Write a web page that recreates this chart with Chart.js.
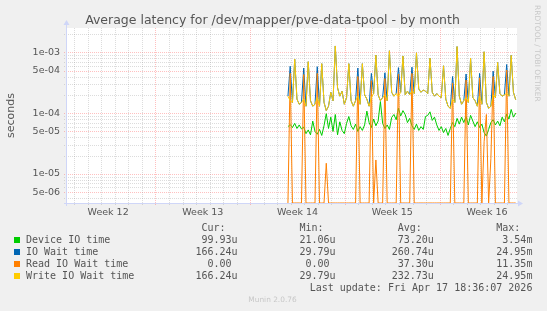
<!DOCTYPE html>
<html><head><meta charset="utf-8">
<script src="https://cdn.jsdelivr.net/npm/chart.js@4.4.1/dist/chart.umd.min.js"></script>
<style>
html,body{margin:0;padding:0;background:#F0F0F0;}
#wrap{position:relative;width:547px;height:311px;overflow:hidden;background:#F0F0F0;}
canvas{position:absolute;left:0;top:0;}
.t{position:absolute;white-space:pre;font-family:"DejaVu Sans Mono",monospace;font-size:10px;line-height:12px;color:#555;}
.sq{position:absolute;width:6px;height:6px;}
#title{position:absolute;left:0;width:545px;top:12px;text-align:center;font-family:"DejaVu Sans",sans-serif;font-size:12.5px;line-height:15px;color:#555;white-space:pre;}
#rrd{position:absolute;left:533px;top:5px;writing-mode:vertical-rl;font-family:"DejaVu Sans",sans-serif;font-size:7.5px;line-height:9px;color:#C8C8C8;white-space:pre;}
#ver{position:absolute;left:0;width:545px;top:295px;text-align:center;font-family:"DejaVu Sans",sans-serif;font-size:7.4px;line-height:10px;color:#C8C8C8;}
</style></head><body>
<div id="wrap"><canvas id="c" width="547" height="311" style="width:547px;height:311px"></canvas>
<div id="title"></div>
<div id="leg"></div>
<div id="rrd">RRDTOOL / TOBI OETIKER</div>
<div id="ver">Munin 2.0.76</div>
</div>
<script>
// ---- data (time in days from the left edge of the graph, one sample every 4 hours) ----
const startDay = 16.33;
const stepDay = 1 / 6;
const deviceIO = [
 6.0e-5,6.5e-5,5.8e-5,6.8e-5,5.6e-5,6.4e-5, 5.5e-5,5.9e-5,4.6e-5,5.3e-5,4.4e-5,7.4e-5,
 5.0e-5,4.5e-5,5.4e-5,4.3e-5,6.2e-5,9.8e-5, 5.6e-5,8.6e-5,5.0e-5,9.5e-5,4.4e-5,7.2e-5,
 5.2e-5,4.6e-5,6.8e-5,8.8e-5,6.2e-5,5.4e-5, 6.6e-5,5.0e-5,6.0e-5,5.2e-5,6.4e-5,1.08e-4,
 7.0e-5,5.8e-5,8.0e-5,6.2e-5,7.4e-5,1.55e-4, 6.8e-5,5.6e-5,6.4e-5,5.4e-5,8.5e-5,9.5e-5,
 7.8e-5,1.2e-4,9.0e-5,1.1e-4,9.5e-5,7.0e-5, 8.2e-5,6.2e-5,5.4e-5,6.6e-5,5.2e-5,6.0e-5,
 5.4e-5,8.8e-5,9.2e-5,1.05e-4,7.6e-5,8.6e-5, 6.4e-5,5.2e-5,6.0e-5,4.8e-5,5.6e-5,4.3e-5,
 5.6e-5,7.0e-5,6.0e-5,8.2e-5,6.6e-5,8.6e-5, 7.0e-5,8.8e-5,6.4e-5,9.2e-5,7.4e-5,6.0e-5,
 7.2e-5,5.8e-5,6.6e-5,4.8e-5,4.2e-5,5.4e-5, 7.0e-5,7.8e-5,6.4e-5,7.4e-5,6.2e-5,8.6e-5,
 7.2e-5,9.6e-5,8.0e-5,1.15e-4,8.6e-5,1.0e-4
];
const ioWait = [
 1.9e-4,5.9e-4,1.5e-4,7.7e-4,1.7e-4,1.4e-4, 1.5e-4,5.5e-4,1.3e-4,7.0e-4,1.6e-4,1.3e-4,
 1.4e-4,5.8e-4,1.3e-4,6.5e-4,1.5e-4,1.1e-4, 1.3e-4,2.2e-4,1.6e-4,1.27e-3,2.6e-4,1.9e-4,
 2.3e-4,1.4e-4,1.8e-4,6.5e-4,1.6e-4,1.3e-4, 1.6e-4,5.5e-4,1.4e-4,6.5e-4,2.0e-4,1.7e-4,
 1.3e-4,4.5e-4,2.1e-4,9.0e-4,2.0e-4,1.6e-4, 1.8e-4,4.6e-4,1.6e-4,1.06e-3,2.2e-4,1.9e-4,
 2.1e-4,5.6e-4,2.2e-4,8.7e-4,2.0e-4,2.3e-4, 2.0e-4,5.7e-4,2.1e-4,9.8e-4,2.5e-4,2.2e-4,
 2.4e-4,2.3e-4,2.1e-4,8.0e-4,2.2e-4,1.9e-4, 2.1e-4,1.9e-4,1.8e-4,6.0e-4,1.7e-4,1.3e-4,
 1.2e-4,4.0e-4,1.5e-4,1.24e-3,1.9e-4,1.4e-4, 1.6e-4,4.4e-4,1.5e-4,8.0e-4,1.8e-4,1.6e-4,
 1.3e-4,4.5e-4,1.4e-4,1.02e-3,1.5e-4,1.2e-4, 1.3e-4,4.9e-4,1.8e-4,6.8e-4,2.1e-4,1.9e-4,
 2.0e-4,6.3e-4,1.9e-4,8.9e-4,2.2e-4,1.66e-4
];
const readWait = [
 0,4.5e-4,0,0,0,0, 0,4.3e-4,0,0,0,0,
 0,4.5e-4,0,0,0,1.5e-5, 0,0,0,0,0,0,
 0,0,0,0,0,0, 0,4.0e-4,0,0,0,0,
 0,3.4e-4,0,1.7e-5,0,0, 0,3.7e-4,0,0,0,0,
 0,4.4e-4,0,0,0,0, 0,4.5e-4,0,0,0,0,
 0,0,0,0,0,0, 0,0,0,0,0,0,
 0,3.1e-4,0,0,0,0, 0,3.5e-4,0,0,0,0,
 0,3.8e-4,0,3.4e-5,9.5e-5,0, 1.8e-5,4.0e-4,0,0,0,0,
 0,5.1e-4,0,0,0,0
];
const writeWait = [
 1.9e-4,1.6e-4,1.5e-4,7.7e-4,1.7e-4,1.4e-4, 1.5e-4,1.7e-4,1.3e-4,7.0e-4,1.6e-4,1.3e-4,
 1.4e-4,1.8e-4,1.3e-4,6.5e-4,1.5e-4,1.1e-4, 1.3e-4,2.2e-4,1.6e-4,1.27e-3,2.6e-4,1.9e-4,
 2.3e-4,1.4e-4,1.8e-4,6.5e-4,1.6e-4,1.3e-4, 1.6e-4,1.9e-4,1.4e-4,6.5e-4,2.0e-4,1.7e-4,
 1.3e-4,1.8e-4,2.1e-4,9.0e-4,2.0e-4,1.6e-4, 1.8e-4,2.0e-4,1.6e-4,1.06e-3,2.2e-4,1.9e-4,
 2.1e-4,1.9e-4,2.2e-4,8.7e-4,2.0e-4,2.3e-4, 2.0e-4,2.3e-4,2.1e-4,9.8e-4,2.5e-4,2.2e-4,
 2.4e-4,2.3e-4,2.1e-4,8.0e-4,2.2e-4,1.9e-4, 2.1e-4,1.9e-4,1.8e-4,6.0e-4,1.7e-4,1.3e-4,
 1.2e-4,1.7e-4,1.5e-4,1.24e-3,1.9e-4,1.4e-4, 1.6e-4,1.8e-4,1.5e-4,8.0e-4,1.8e-4,1.6e-4,
 1.3e-4,1.9e-4,1.4e-4,1.02e-3,1.5e-4,1.2e-4, 1.3e-4,2.0e-4,1.8e-4,6.8e-4,2.1e-4,1.9e-4,
 2.0e-4,2.1e-4,1.9e-4,8.9e-4,2.2e-4,1.66e-4
];
const seriesNames = ['Device IO time','IO Wait time','Read IO Wait time','Write IO Wait time'];
const curVals = ['99.93u','166.24u','  0.00 ','166.24u'];
const minVals = ['21.06u','29.79u','  0.00 ','29.79u'];
const avgVals = ['73.20u','260.74u','37.30u','232.73u'];
const maxVals = ['3.54m','24.95m','11.35m','24.95m'];
const weekLabels = ['Week 12','Week 13','Week 14','Week 15','Week 16'];
const weekCenters = [3.04, 10.04, 17.04, 24.04, 31.04];
const yTickValues = [5e-6, 1e-5, 5e-5, 1e-4, 5e-4, 1e-3];
const yTickLabels = ['5e-06','1e-05','5e-05','1e-04','5e-04','1e-03'];
const titleText = 'Average latency for /dev/mapper/pve-data-tpool - by month';
const lastUpdate = 'Last update: Fri Apr 17 18:36:07 2026';

// ---- axis range ----
const xMin = 0, xMax = 33.26;
const yMin = 3.337e-6, yMax = 2.507e-3;
const dayGridStart = 0.54;   // first midnight line
const weekGridStart = 6.54;  // first week line

// ---- styles ----
const colors = ['#00CC00','#0066B3','#FF8000','#FFCC00'];
const fontCol = '#555555';
const majorGrid = 'rgba(255,90,90,0.38)';
const minorGrid = 'rgba(150,150,150,0.33)';

document.getElementById('title').textContent = titleText;

const toPts = arr => arr.map((v, i) => ({x: startDay + i * stepDay, y: v === 0 ? yMin : v}));

const muninPlugin = {
  id: 'munin',
  beforeDraw(chart) {
    const {ctx, chartArea: a} = chart;
    ctx.save();
    ctx.fillStyle = '#FFFFFF';
    ctx.fillRect(a.left, a.top, a.right - a.left, a.bottom - a.top);
    ctx.restore();
  },
  beforeDatasetsDraw(chart) {
    const {ctx, chartArea: a, scales: {x, y}} = chart;
    ctx.save();
    ctx.lineWidth = 1;
    ctx.setLineDash([1, 1]);
    for (let e = -6; e <= -2; e++) {
      for (let m = 1; m <= 9; m++) {
        const v = m * Math.pow(10, e);
        if (v < y.min || v > y.max) continue;
        const py = Math.round(y.getPixelForValue(v)) + 0.5;
        const major = (m === 1 || m === 5);
        ctx.strokeStyle = major ? majorGrid : minorGrid;
        ctx.beginPath(); ctx.moveTo(a.left - 3, py); ctx.lineTo(a.right, py); ctx.stroke();
      }
    }
    for (let k = 0; dayGridStart + k <= xMax; k++) {
      const d = dayGridStart + k;
      const px = Math.round(x.getPixelForValue(d)) + 0.5;
      const q = (d - weekGridStart) / 7;
      const major = Math.abs(q - Math.round(q)) < 1e-6;
      ctx.strokeStyle = major ? majorGrid : minorGrid;
      ctx.beginPath(); ctx.moveTo(px, a.top); ctx.lineTo(px, a.bottom + 3); ctx.stroke();
    }
    ctx.restore();
  },
  afterDatasetsDraw(chart) {
    const {ctx, chartArea: a} = chart;
    ctx.save();
    ctx.strokeStyle = '#CFD6F8';
    ctx.fillStyle = '#CFD6F8';
    ctx.lineWidth = 1;
    ctx.beginPath();
    ctx.moveTo(a.left - 0.5, a.bottom + 3); ctx.lineTo(a.left - 0.5, a.top - 4);
    ctx.moveTo(a.left - 3, a.bottom + 0.5); ctx.lineTo(a.right + 2, a.bottom + 0.5);
    ctx.stroke();
    ctx.beginPath();
    ctx.moveTo(a.left - 3.5, a.top - 3); ctx.lineTo(a.left + 2.5, a.top - 3); ctx.lineTo(a.left - 0.5, a.top - 8); ctx.closePath();
    ctx.fill();
    ctx.beginPath();
    ctx.moveTo(a.right + 1, a.bottom - 2.5); ctx.lineTo(a.right + 1, a.bottom + 3.5); ctx.lineTo(a.right + 6, a.bottom + 0.5); ctx.closePath();
    ctx.fill();
    ctx.restore();
  }
};

const ds = (label, arr, color, order) => ({
  label, data: toPts(arr), borderColor: color, backgroundColor: color,
  borderWidth: 1, pointRadius: 0, tension: 0, fill: false, order,
  borderJoinStyle: 'bevel'
});

new Chart(document.getElementById('c'), {
  type: 'line',
  data: {
    datasets: [
      ds(seriesNames[0], deviceIO, colors[0], 3),
      ds(seriesNames[1], ioWait, colors[1], 2),
      ds(seriesNames[2], readWait, colors[2], 1),
      ds(seriesNames[3], writeWait, colors[3], 0)
    ]
  },
  options: {
    responsive: false, animation: false, devicePixelRatio: 1,
    layout: {padding: {left: 0, right: 30, top: 28, bottom: 0}},
    plugins: {legend: {display: false}, tooltip: {enabled: false}, title: {display: false}},
    scales: {
      x: {
        type: 'linear', min: xMin, max: xMax,
        grid: {display: false, drawTicks: false}, border: {display: false},
        afterBuildTicks: s => { s.ticks = weekCenters.map(v => ({value: v})); },
        afterFit: s => { s.height = 108; },
        ticks: {autoSkip: false, maxRotation: 0, padding: 4, color: fontCol,
          font: {family: 'DejaVu Sans', size: 9.5},
          callback: (v, i) => weekLabels[i]}
      },
      y: {
        type: 'logarithmic', min: yMin, max: yMax,
        grid: {display: false, drawTicks: false}, border: {display: false},
        afterBuildTicks: s => { s.ticks = yTickValues.map(v => ({value: v})); },
        afterFit: s => { s.width = 67; },
        title: {display: true, text: 'seconds', color: fontCol,
          font: {family: 'DejaVu Sans', size: 11, weight: 'normal', lineHeight: 1.2},
          padding: {top: 4.5, bottom: 0}},
        ticks: {autoSkip: false, padding: 7, color: fontCol,
          font: {family: 'DejaVu Sans', size: 9.5},
          callback: (v, i) => yTickLabels[i]}
      }
    }
  },
  plugins: [muninPlugin]
});

// ---- legend (text table like rrdtool) ----
const leg = document.getElementById('leg');
function addText(txt, rightEdge, centerY, leftX) {
  const d = document.createElement('div');
  d.className = 't';
  d.textContent = txt;
  d.style.top = (centerY - 6) + 'px';
  if (leftX !== undefined) d.style.left = leftX + 'px';
  else { d.style.right = (547 - rightEdge) + 'px'; d.style.textAlign = 'right'; }
  leg.appendChild(d);
}
const colEdges = [237.6, 335.5, 433.8, 532.4];
const headers = ['Cur:', 'Min:', 'Avg:', 'Max:'];
const headerY = 228, rowY0 = 240, rowStep = 12;
headers.forEach((h, c) => addText(h, colEdges[c] - 12, headerY));
const cols = [curVals, minVals, avgVals, maxVals];
seriesNames.forEach((n, r) => {
  const cy = rowY0 + r * rowStep;
  const sq = document.createElement('div');
  sq.className = 'sq'; sq.style.left = '14px'; sq.style.top = (cy - 3) + 'px';
  sq.style.background = colors[r];
  leg.appendChild(sq);
  addText(n, 0, cy, 26);
  cols.forEach((col, c) => addText(col[r], colEdges[c], cy));
});
addText(lastUpdate, colEdges[3], rowY0 + 4 * rowStep);
</script>
</body></html>
